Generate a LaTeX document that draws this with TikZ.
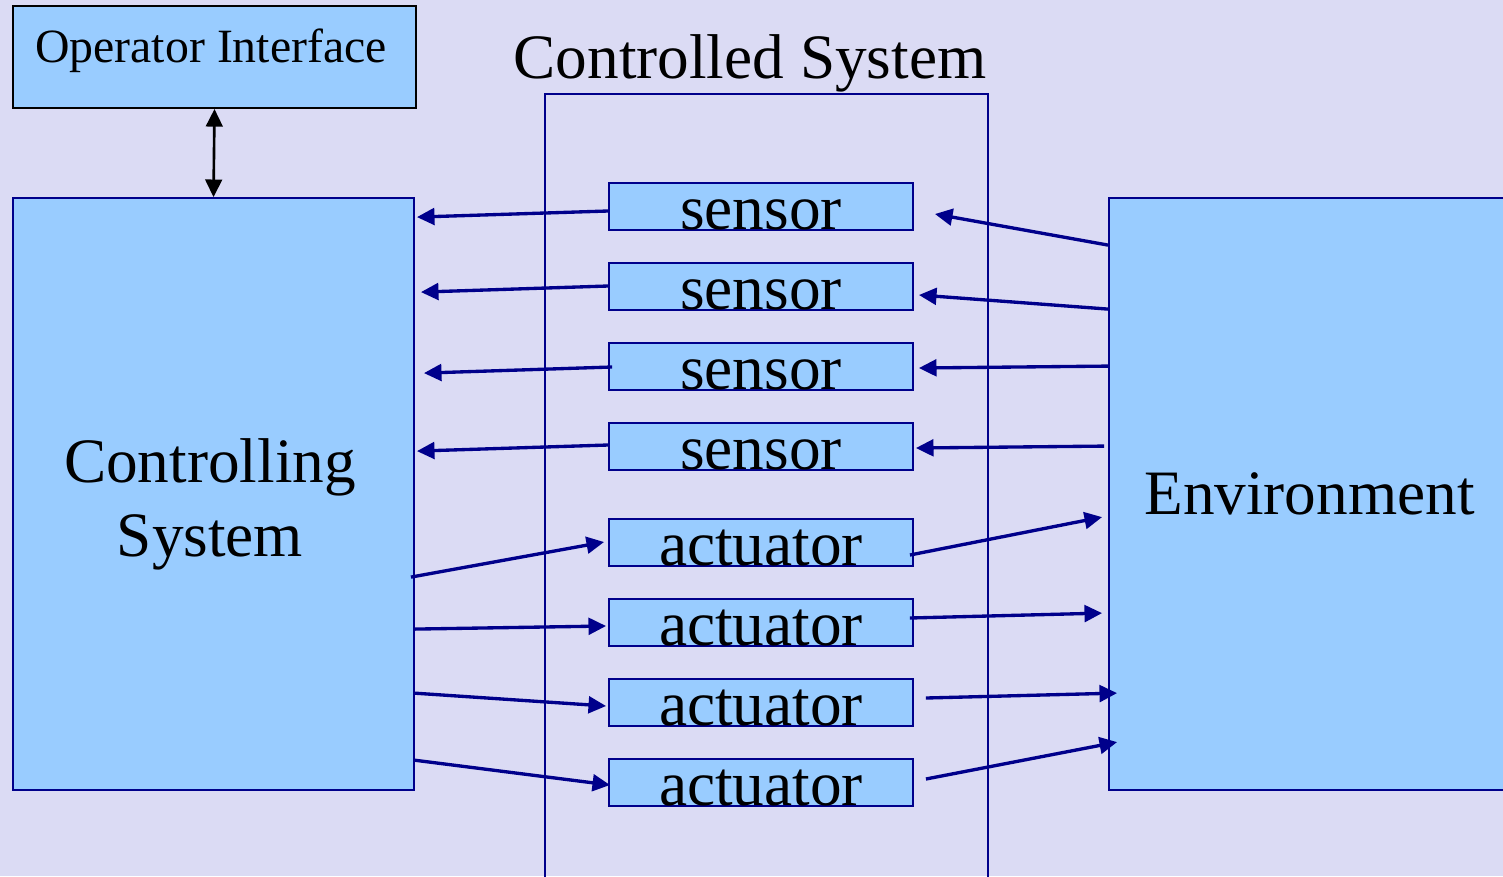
\documentclass[tikz,border=0pt]{standalone}
\usepackage{fontspec}
\setmainfont{Liberation Serif}
\usetikzlibrary{arrows.meta}
\definecolor{bgcol}{RGB}{219,219,244}
\definecolor{boxblue}{RGB}{153,204,255}
\definecolor{linenavy}{RGB}{0,0,139}

\begin{document}
\begin{tikzpicture}[x=0.02cm, y=-0.02cm,
    box/.style={draw=linenavy, line width=1.1pt, fill=boxblue, inner sep=0pt},
    big/.style={font=\fontsize{36}{42}\selectfont},
    part/.style={box, big, minimum width=6.08cm, text height=26.7pt, text depth=0pt},
    flow/.style={-{Triangle[length=10pt, width=9.5pt]}, linenavy, line width=1.9pt}]
    \clip (0,0) rectangle (1503,876);
    \fill[bgcol] (0,0) rectangle (1503,876);

    % Main blocks
    \node[box, draw=black, minimum width=8.06cm, text height=31.9pt, text depth=26.2pt, font=\fontsize{27.2}{32}\selectfont] (opif) at (214.5,57) {Operator Interface\kern4pt};
    \node[box, minimum width=8.02cm, minimum height=11.84cm] (ctrl) at (213.5,494) {};
    \node[big, align=center] (ctrltext) at (210,504) {Controlling\\System};
    \node[box, big, minimum width=8.02cm, minimum height=11.84cm] (env) at (1309.5,494) {Environment};

    % Controlled system frame
    \node[draw=linenavy, line width=1pt, minimum width=8.86cm, minimum height=16cm, inner sep=0pt, anchor=north] (csys) at (766.5,93) {};
    \node[big, anchor=base] (cstitle) at (750,78) {Controlled System};

    % Sensors and actuators
    \node[part] (s1) at (761,206.5) {sensor};
    \node[part] (s2) at (761,286.5) {sensor};
    \node[part] (s3) at (761,366.5) {sensor};
    \node[part] (s4) at (761,446.5) {sensor};
    \node[part] (a1) at (761,542.5) {actuator};
    \node[part] (a2) at (761,622.5) {actuator};
    \node[part] (a3) at (761,702.5) {actuator};
    \node[part] (a4) at (761,782.5) {actuator};

    % Operator link
    \draw[{Triangle[length=10pt, width=9.5pt]}-{Triangle[length=10pt, width=9.5pt]}, line width=1.5pt] (opif.south) -- (ctrl.north);

    % Sensor readings
    \draw[flow] ([shift={(0,4.5)}]s1.west) -- ([shift={(2,20)}]ctrl.north east);
    \draw[flow] ([shift={(0,-0.5)}]s2.west) -- ([shift={(6,95)}]ctrl.north east);
    \draw[flow] ([shift={(4,0.5)}]s3.west) -- ([shift={(9,176)}]ctrl.north east);
    \draw[flow] ([shift={(0,-1.5)}]s4.west) -- ([shift={(2,254)}]ctrl.north east);
    \draw[flow] ([shift={(0,48)}]env.north west) -- ([shift={(21,7.5)}]s1.east);
    \draw[flow] ([shift={(0,112)}]env.north west) -- ([shift={(5,8.5)}]s2.east);
    \draw[flow] ([shift={(0,169)}]env.north west) -- ([shift={(5,1.5)}]s3.east);
    \draw[flow] ([shift={(-4,249)}]env.north west) -- ([shift={(2,1.5)}]s4.east);

    % Actuator commands
    \draw[flow] ([shift={(-4,380)}]ctrl.north east) -- ([shift={(-4,-0.5)}]a1.west);
    \draw[flow] ([shift={(-1,432)}]ctrl.north east) -- ([shift={(-2,3.5)}]a2.west);
    \draw[flow] ([shift={(-1,496)}]ctrl.north east) -- ([shift={(-2,3.5)}]a3.west);
    \draw[flow] ([shift={(-1,563)}]ctrl.north east) -- ([shift={(2,2.5)}]a4.west);
    \draw[flow] ([shift={(-4,12.5)}]a1.east) -- ([shift={(-6,320)}]env.north west);
    \draw[flow] ([shift={(-4,-4.5)}]a2.east) -- ([shift={(-6,416)}]env.north west);
    \draw[flow] ([shift={(12,-4.5)}]a3.east) -- ([shift={(9,496)}]env.north west);
    \draw[flow] ([shift={(12,-3.5)}]a4.east) -- ([shift={(9,545)}]env.north west);
\end{tikzpicture}
\end{document}
